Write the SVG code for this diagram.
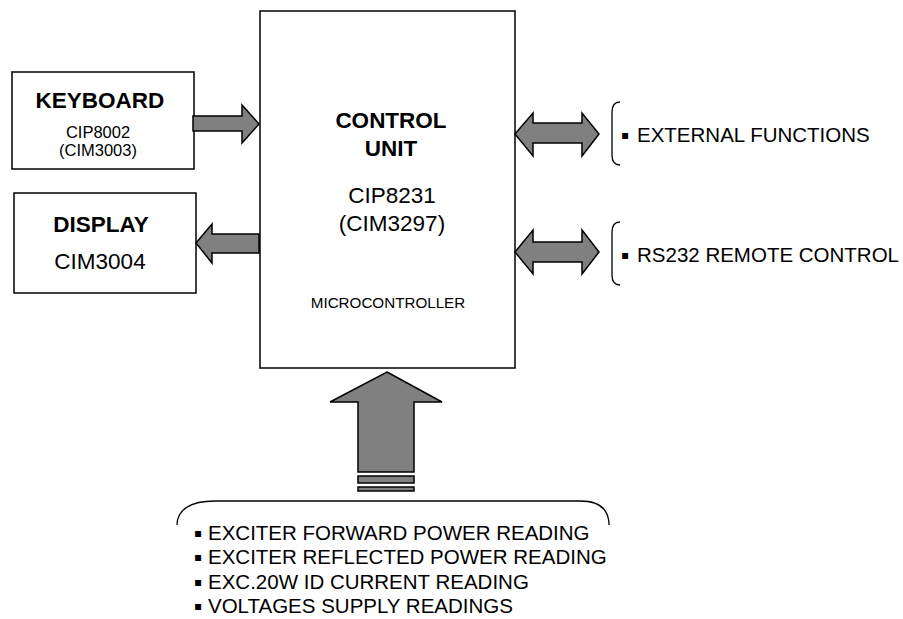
<svg xmlns="http://www.w3.org/2000/svg" width="903" height="619" viewBox="0 0 903 619">
<style>
.box{fill:#fff;stroke:#000;stroke-width:1.5}
.arr{fill:#808080;stroke:#000;stroke-width:1.5;stroke-linejoin:miter}
.br{fill:none;stroke:#000;stroke-width:1.3}
text{font-family:"Liberation Sans",Arial,sans-serif;fill:#000}
.b{font-weight:bold;font-size:22.5px}
.m{font-size:22.5px}
.s{font-size:16.5px}
.l{font-size:20.5px}
.bu{font-family:"DejaVu Sans",sans-serif;font-size:12px}
</style>
<rect width="903" height="619" fill="#fff"/>
<g id="control-unit">
<rect class="box" x="260" y="11" width="255" height="357"/>
<text class="b" x="391" y="128" text-anchor="middle">CONTROL</text>
<text class="b" x="391" y="156" text-anchor="middle">UNIT</text>
<text class="m" x="392" y="203" text-anchor="middle">CIP8231</text>
<text class="m" x="392" y="231" text-anchor="middle">(CIM3297)</text>
<text x="388" y="308" text-anchor="middle" font-size="15.2">MICROCONTROLLER</text>
</g>
<g id="keyboard">
<rect class="box" x="12" y="72" width="182" height="97"/>
<text class="b" x="100" y="108" text-anchor="middle">KEYBOARD</text>
<text class="s" x="98" y="138" text-anchor="middle">CIP8002</text>
<text class="s" x="98" y="155.5" text-anchor="middle">(CIM3003)</text>
</g>
<g id="display">
<rect class="box" x="14" y="193" width="182" height="100"/>
<text class="b" x="101" y="232" text-anchor="middle">DISPLAY</text>
<text class="m" x="100" y="269" text-anchor="middle">CIM3004</text>
</g>
<g id="external-functions">
<path class="br" d="M620,102 C614,102 612,106 612,112 L612,155 C612,161 614,165 620,165"/>
<text class="l" x="621" y="142"><tspan class="bu" y="139">▪</tspan><tspan x="637" y="142">EXTERNAL FUNCTIONS</tspan></text>
</g>
<g id="rs232">
<path class="br" d="M620,222 C614,222 612,226 612,232 L612,275 C612,281 614,285 620,285"/>
<text class="l" x="621" y="262"><tspan class="bu" y="259">▪</tspan><tspan x="637" y="262">RS232 REMOTE CONTROL</tspan></text>
</g>
<g id="readings">
<path class="br" d="M177,525 C177,510 190,501 215,501 L580,501 C600,501 609,510 609,525"/>
<text class="l" x="194" y="540"><tspan class="bu" y="537">▪</tspan><tspan x="208" y="540">EXCITER FORWARD POWER READING</tspan></text>
<text class="l" x="194" y="564"><tspan class="bu" y="561">▪</tspan><tspan x="208" y="564">EXCITER REFLECTED POWER READING</tspan></text>
<text class="l" x="194" y="589"><tspan class="bu" y="586">▪</tspan><tspan x="208" y="589">EXC.20W ID CURRENT READING</tspan></text>
<text class="l" x="194" y="613"><tspan class="bu" y="610">▪</tspan><tspan x="208" y="613">VOLTAGES SUPPLY READINGS</tspan></text>
</g>
<g id="connectors">
<path class="arr" d="M193,116 L242,116 L242,105 L259,124 L242,143 L242,131 L193,131 Z"/>
<path class="arr" d="M259,234 L212,234 L212,224 L196,243 L212,263 L212,253 L259,253 Z"/>
<path class="arr" d="M515,134 L533,113 L533,123 L582,123 L582,113 L599,134 L582,156 L582,143 L533,143 L533,156 Z"/>
<path class="arr" d="M515,252 L533,230 L533,242 L582,242 L582,230 L599,252 L582,274 L582,262 L533,262 L533,274 Z"/>
<path class="arr" d="M387,372 L442,402 L414,402 L414,472 L358,472 L358,402 L330,402 Z"/>
<rect class="arr" x="358" y="476" width="56" height="7"/>
<rect class="arr" x="358" y="487" width="56" height="4"/>
</g>
</svg>
